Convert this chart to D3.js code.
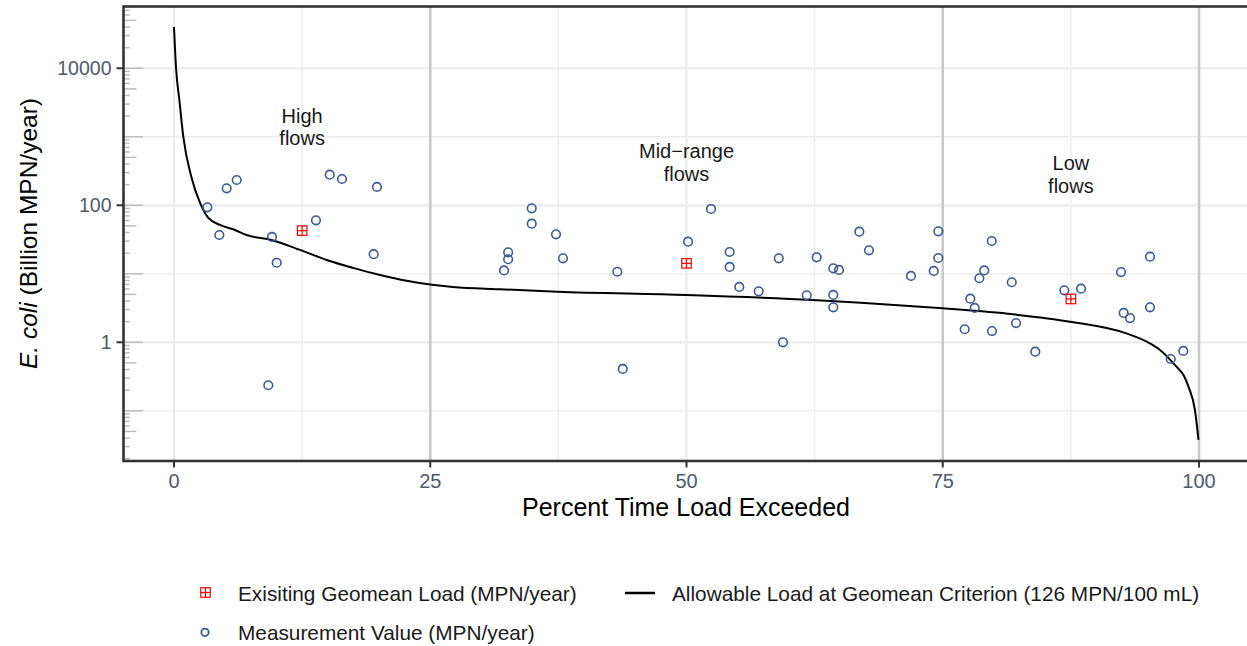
<!DOCTYPE html>
<html>
<head>
<meta charset="utf-8">
<script src="https://cdn.jsdelivr.net/npm/d3@7"></script>
<style>
  html, body { margin: 0; padding: 0; background: #ffffff; }
  svg { display: block; }
  text { font-family: "Liberation Sans", Arial, Helvetica, sans-serif; }
</style>
</head>
<body>
<svg id="chart" width="1247" height="646"></svg>
<script>
// ---------- data ----------
const measX = [3.25, 4.42, 5.14, 6.12, 9.56, 10.02, 9.2, 13.85, 15.19, 16.39, 19.8, 19.48,
  32.2, 32.6, 32.6, 34.9, 34.9, 37.27, 37.95, 43.25, 43.78, 50.15, 52.39, 54.21, 54.21, 55.15,
  57.04, 59.0, 59.41, 61.73, 62.7, 64.32, 64.88, 64.32, 64.32, 66.86, 67.8, 71.9, 74.12, 74.57, 74.57,
  77.14, 77.69, 78.12, 78.57, 79.05, 79.78, 79.8, 81.73, 82.15, 84.03, 86.86, 88.49, 92.39, 92.65,
  93.27, 95.22, 95.22, 97.24, 98.47];
const measY = [93.5, 36.8, 177, 234, 34.5, 14.5, 0.236, 60.4, 280, 242, 185, 19.3,
  11.2, 20.6, 16.3, 90.4, 53.9, 37.7, 16.8, 10.7, 0.408, 29.4, 88.3, 20.8, 12.6, 6.42,
  5.55, 16.8, 1.0, 4.86, 17.4, 12.0, 11.4, 4.91, 3.24, 41.2, 22.0, 9.29, 11.0, 41.7, 17.0,
  1.55, 4.33, 3.17, 8.6, 11.2, 30.1, 1.46, 7.52, 1.91, 0.729, 5.74, 6.06, 10.6, 2.68,
  2.26, 17.8, 3.24, 0.570, 0.747];

const geoX = [12.5, 50, 87.5];
const geoY = [42.6, 14.2, 4.29];

const curveX = [0, 0.2, 0.52, 0.91, 1.73, 2.54, 3.35, 4.49, 5.95, 7.09, 9.53, 12.29,
  14.9, 17.46, 20.1, 22.7, 25, 27.2, 31.8, 37.4, 50, 62.3, 67, 75, 81.85, 87.4, 92.9, 94.9,
  96.2, 97.8, 98.5, 99.0, 99.6, 99.95];
const curveY = [40100, 10000, 3470, 993, 248, 108, 65.3, 51.6, 43.6, 36.8, 31.1, 22.3,
  15.9, 12.2, 9.6, 7.9, 6.98, 6.42, 5.94, 5.48, 4.90, 4.15, 3.79, 3.13, 2.56, 2.0, 1.35, 1.02,
  0.772, 0.44, 0.33, 0.22, 0.103, 0.0375];

const xTicks = [0, 25, 50, 75, 100];
const xTickLabels = ["0", "25", "50", "75", "100"];
const xMinor = [12.5, 37.5, 62.5, 87.5];
const yTicks = [1, 100, 10000];
const yTickLabels = ["1", "100", "10000"];
const yMinor = [0.1, 10, 1000];
const zoneBounds = [25, 75, 100];

const zoneLines = [["High", "flows"], ["Mid\u2212range", "flows"], ["Low", "flows"]];
const zoneX = [12.5, 50, 87.5];
const zoneY = [1400, 425, 285];

const xTitle = "Percent Time Load Exceeded";
const legendGeo = "Exisiting Geomean Load (MPN/year)";
const legendLine = "Allowable Load at Geomean Criterion (126 MPN/100 mL)";
const legendMeas = "Measurement Value (MPN/year)";

// ---------- layout ----------
const svg = d3.select("#chart");
svg.append("rect").attr("width", 1247).attr("height", 646).attr("fill", "#ffffff");

const P = { l: 123.5, t: 6.5, r: 1251, b: 461 };
const x = d3.scaleLinear().domain([-5, 105]).range([122.75, 1250.25]);
const y = d3.scaleLog().domain([Math.pow(10, -1.733), Math.pow(10, 4.909)]).range([461, 6]);

const g = svg.append("g");

// minor grid
g.selectAll(".ymin").data(yMinor).join("line")
  .attr("x1", P.l).attr("x2", P.r).attr("y1", d => y(d)).attr("y2", d => y(d))
  .attr("stroke", "#ebebeb").attr("stroke-width", 1.3);
g.selectAll(".xmin").data(xMinor).join("line")
  .attr("y1", P.t).attr("y2", P.b).attr("x1", d => x(d)).attr("x2", d => x(d))
  .attr("stroke", "#ebebeb").attr("stroke-width", 1.3);
// major grid
g.selectAll(".ymaj").data(yTicks).join("line")
  .attr("x1", P.l).attr("x2", P.r).attr("y1", d => y(d)).attr("y2", d => y(d))
  .attr("stroke", "#ebebeb").attr("stroke-width", 2.2);
g.selectAll(".xmaj").data(xTicks).join("line")
  .attr("y1", P.t).attr("y2", P.b).attr("x1", d => x(d)).attr("x2", d => x(d))
  .attr("stroke", "#ebebeb").attr("stroke-width", 2.2);

// zone boundary vlines
g.selectAll(".zone").data(zoneBounds).join("line")
  .attr("y1", P.t).attr("y2", P.b).attr("x1", d => x(d)).attr("x2", d => x(d))
  .attr("stroke", "#c8c8c8").attr("stroke-width", 2.5);

// log ticks on the left (inside panel)
const logTicks = [];
for (let n = -2; n <= 4; n++) {
  for (let k = 1; k <= 9; k++) {
    const v = k * Math.pow(10, n);
    const [d0, d1] = y.domain();
    if (v >= d0 && v <= d1) logTicks.push({ v, k });
  }
}
g.selectAll(".lt").data(logTicks).join("line")
  .attr("x1", 124).attr("x2", d => 123 + (d.k === 1 ? 20 : d.k === 5 ? 13.4 : 6.7))
  .attr("y1", d => y(d.v)).attr("y2", d => y(d.v))
  .attr("stroke", "#bdbdbd").attr("stroke-width", 1.5);

// zone labels
zoneLines.forEach((lines, i) => {
  const yc = y(zoneY[i]);
  const t = g.append("text").attr("text-anchor", "middle").attr("font-size", 20)
    .attr("fill", "#1a1a1a");
  lines.forEach((ln, j) => {
    t.append("tspan").attr("x", x(zoneX[i])).attr("y", yc - 4 + j * 22.4).text(ln);
  });
});

// allowable load curve
const curveData = curveX.map((d, i) => [d, curveY[i]]);
g.append("path").datum(curveData)
  .attr("d", d3.line().x(d => x(d[0])).y(d => y(d[1])).curve(d3.curveMonotoneX))
  .attr("fill", "none").attr("stroke", "#000000").attr("stroke-width", 2);

// measurement points
const measData = measX.map((d, i) => [d, measY[i]]);
g.selectAll(".pt").data(measData).join("circle")
  .attr("cx", d => x(d[0])).attr("cy", d => y(d[1])).attr("r", 4.3)
  .attr("fill", "none").attr("stroke", "#3a5a96").attr("stroke-width", 1.6);

// geomean square-plus
function squarePlus(sel, cx, cy, s) {
  const h = s / 2;
  sel.append("rect").attr("x", cx - h).attr("y", cy - h).attr("width", s).attr("height", s)
    .attr("fill", "none").attr("stroke", "#ff0000").attr("stroke-width", 1.2);
  sel.append("line").attr("x1", cx - h).attr("x2", cx + h).attr("y1", cy).attr("y2", cy)
    .attr("stroke", "#ff0000").attr("stroke-width", 1.2);
  sel.append("line").attr("x1", cx).attr("x2", cx).attr("y1", cy - h).attr("y2", cy + h)
    .attr("stroke", "#ff0000").attr("stroke-width", 1.2);
}
geoX.forEach((d, i) => squarePlus(g.append("g"), x(d), y(geoY[i]), 9.5));

// panel border
svg.append("rect").attr("x", P.l).attr("y", P.t).attr("width", P.r - P.l).attr("height", P.b - P.t)
  .attr("fill", "none").attr("stroke", "#333333").attr("stroke-width", 2.6);

// axis ticks + labels
const axisCol = "#4f5a6a";
svg.selectAll(".ytk").data(yTicks).join("line")
  .attr("x1", 116.5).attr("x2", 123).attr("y1", d => y(d)).attr("y2", d => y(d))
  .attr("stroke", "#333333").attr("stroke-width", 2);
svg.selectAll(".ytl").data(yTicks).join("text")
  .attr("x", 111.5).attr("y", d => y(d) + 7).attr("text-anchor", "end")
  .attr("font-size", 19.5).attr("fill", axisCol).text((d, i) => yTickLabels[i]);
svg.selectAll(".xtk").data(xTicks).join("line")
  .attr("x1", d => x(d)).attr("x2", d => x(d)).attr("y1", 461).attr("y2", 467.5)
  .attr("stroke", "#333333").attr("stroke-width", 2);
svg.selectAll(".xtl").data(xTicks).join("text")
  .attr("x", d => x(d)).attr("y", 488).attr("text-anchor", "middle")
  .attr("font-size", 20).attr("fill", axisCol).text((d, i) => xTickLabels[i]);

// axis titles
svg.append("text").attr("x", 686).attr("y", 516).attr("text-anchor", "middle")
  .attr("font-size", 25).attr("fill", "#000000").text(xTitle);
const yt = svg.append("text").attr("transform", "translate(36.5,233.5) rotate(-90)")
  .attr("text-anchor", "middle").attr("font-size", 24.5).attr("fill", "#000000");
yt.append("tspan").attr("font-style", "italic").text("E. coli");
yt.append("tspan").text(" (Billion MPN/year)");

// legend
const lg = svg.append("g");
squarePlus(lg, 205.5, 592.5, 9.5);
lg.append("text").attr("x", 238).attr("y", 600.5).attr("font-size", 20.8).attr("fill", "#1a1a1a").text(legendGeo);
lg.append("line").attr("x1", 625).attr("x2", 655).attr("y1", 593).attr("y2", 593)
  .attr("stroke", "#000000").attr("stroke-width", 2.5);
lg.append("text").attr("x", 672).attr("y", 600.5).attr("font-size", 20.8).attr("fill", "#1a1a1a").text(legendLine);
lg.append("circle").attr("cx", 205).attr("cy", 632.3).attr("r", 3.7)
  .attr("fill", "none").attr("stroke", "#3a5a96").attr("stroke-width", 1.8);
lg.append("text").attr("x", 238).attr("y", 639.5).attr("font-size", 20.8).attr("fill", "#1a1a1a").text(legendMeas);
</script>
</body>
</html>
